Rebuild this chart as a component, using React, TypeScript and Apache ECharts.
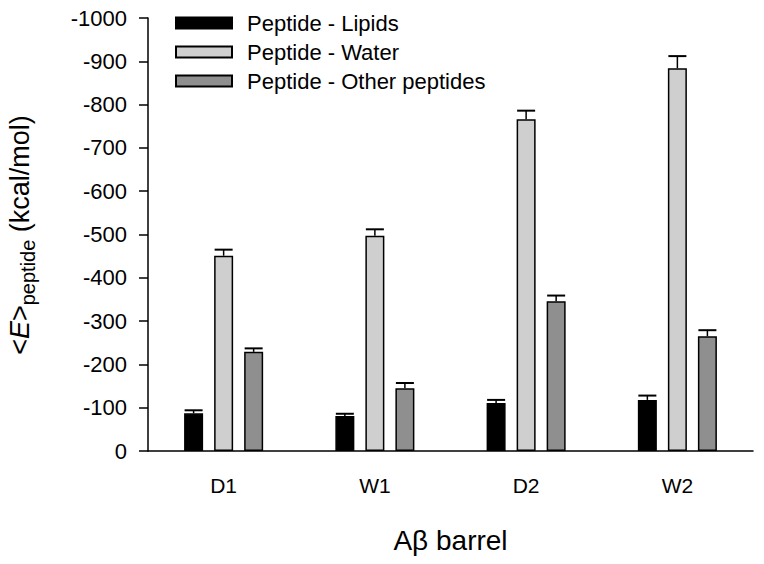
import React, { useEffect, useRef } from "react";
import * as echarts from "echarts";

const categories = ["D1", "W1", "D2", "W2"];
const seriesNames = ["Peptide - Lipids", "Peptide - Water", "Peptide - Other peptides"];
const lipids = [-87, -81, -111, -118];
const lipidsErr = [7, 5, 7, 10];
const water = [-451, -497, -766, -884];
const waterErr = [14, 15, 20, 28];
const others = [-229, -145, -346, -265];
const othersErr = [8, 12, 13, 14];
const colors = ["#000000", "#cfcfcf", "#8f8f8f"];

const FONT = "'Liberation Sans', Arial, Helvetica, sans-serif";
const BAR_W = 19;
const GAP_RATIO = 0.58;

export default function App() {
  const ref = useRef<HTMLDivElement>(null);
  useEffect(() => {
    document.body.style.margin = "0";
    if (!ref.current) return;
    const chart = echarts.init(ref.current, null, { renderer: "svg" });
    const values = [lipids, water, others];
    const errs = [lipidsErr, waterErr, othersErr];

    const barSeries = values.map((vals, i) => ({
      type: "bar",
      name: seriesNames[i],
      data: vals,
      barWidth: BAR_W,
      barGap: GAP_RATIO * 100 + "%",
      itemStyle: { color: colors[i], borderColor: "#000", borderWidth: 1.5 },
      z: 2,
    }));

    const errSeries = values.map((vals, i) => ({
      type: "custom",
      data: vals.map((v, k) => [k, v, errs[i][k]]),
      z: 3,
      silent: true,
      renderItem: (params: any, api: any) => {
        const ci = api.value(0);
        const v = api.value(1);
        const e = api.value(2);
        const base = api.coord([ci, v]);
        const top = api.coord([ci, v - e]);
        const offset = (i - 1) * BAR_W * (1 + GAP_RATIO);
        const x = base[0] + offset;
        return {
          type: "group",
          children: [
            { type: "line", shape: { x1: x, y1: base[1], x2: x, y2: top[1] }, style: { stroke: "#000", lineWidth: 1.5 } },
            { type: "line", shape: { x1: x - 9, y1: top[1], x2: x + 9, y2: top[1] }, style: { stroke: "#000", lineWidth: 2 } },
          ],
        };
      },
    }));

    chart.setOption({
      animation: false,
      textStyle: { fontFamily: FONT },
      grid: { left: 148, right: 11, top: 18, bottom: 113, containLabel: false },
      legend: {
        data: seriesNames,
        orient: "vertical",
        left: 170,
        top: 7,
        itemWidth: 56,
        itemHeight: 11,
        itemGap: 7,
        icon: "rect",
        selectedMode: false,
        textStyle: { fontSize: 22, color: "#000", fontFamily: FONT, padding: [0, 0, 0, 10] },
      },
      xAxis: {
        type: "category",
        data: categories,
        name: "A\u03b2 barrel",
        nameLocation: "middle",
        nameGap: 75,
        nameTextStyle: { fontSize: 28, color: "#000", fontFamily: FONT },
        axisLine: { lineStyle: { color: "#000", width: 1.5 } },
        axisTick: { alignWithLabel: true, length: 9, lineStyle: { color: "#000", width: 1.5 } },
        axisLabel: { fontSize: 21, color: "#000", margin: 24, fontFamily: FONT },
      },
      yAxis: {
        type: "value",
        min: -1000,
        max: 0,
        interval: 100,
        inverse: true,
        splitLine: { show: false },
        axisLine: { show: true, lineStyle: { color: "#000", width: 1.5 } },
        axisTick: { show: true, length: 9, lineStyle: { color: "#000", width: 1.5 } },
        axisLabel: {
          fontSize: 22,
          color: "#000",
          margin: 21,
          fontFamily: FONT,
          formatter: (v: number) => String(v),
        },
      },
      graphic: [
        {
          type: "text",
          x: 22,
          y: 235,
          rotation: Math.PI / 2,
          style: {
            text: "{n|<}{i|E}{n|>}{s|peptide}{n| (kcal/mol)}",
            align: "center",
            verticalAlign: "middle",
            fill: "#000",
            rich: {
              n: { fontSize: 27, fontFamily: FONT, fill: "#000", lineHeight: 31, verticalAlign: "top" },
              i: { fontSize: 27, fontFamily: FONT, fontStyle: "italic", fill: "#000", lineHeight: 31, verticalAlign: "top" },
              s: { fontSize: 20, fontFamily: FONT, fill: "#000", lineHeight: 21, verticalAlign: "bottom" },
            },
          },
        },
      ],
      series: [...barSeries, ...errSeries],
    } as any);
    return () => chart.dispose();
  }, []);
  return <div ref={ref} style={{ width: 764, height: 564 }} />;
}
